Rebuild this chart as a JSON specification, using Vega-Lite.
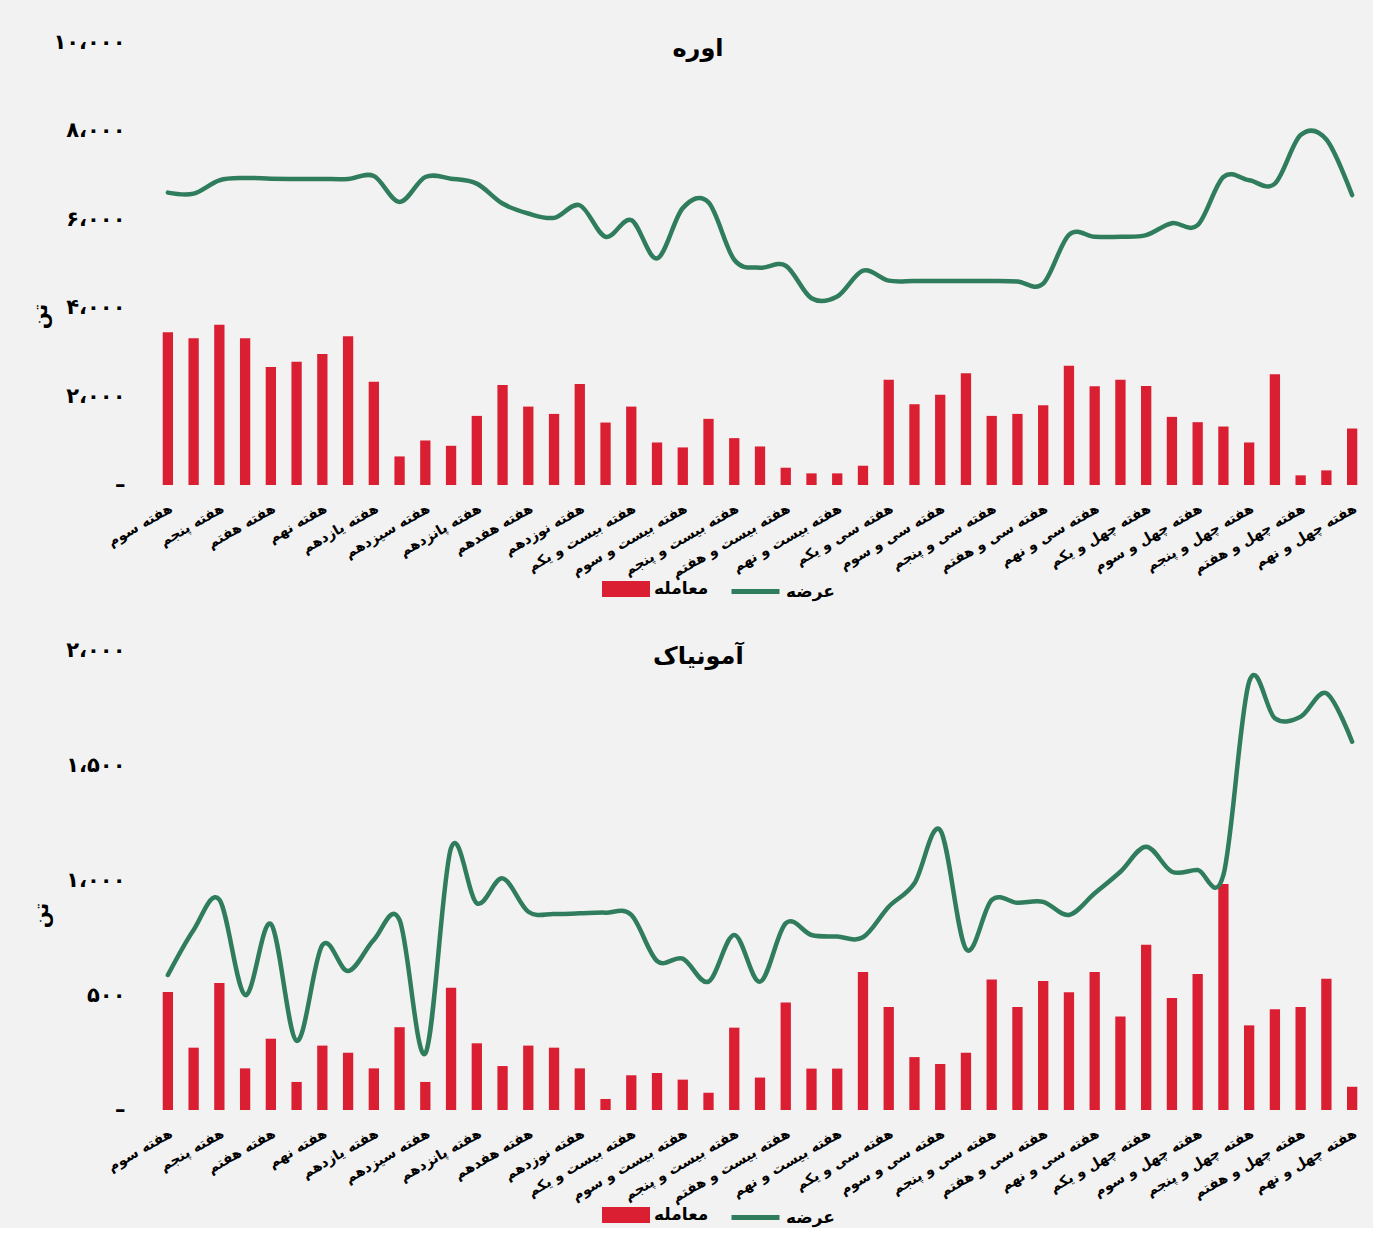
{
  "$schema": "https://vega.github.io/schema/vega-lite/v6.json",
  "background": "#f2f2f2",
  "padding": {"left": 30, "top": 31, "right": 8, "bottom": 0},
  "spacing": 37,
  "datasets": {
    "urea": [
      {"week": "هفته سوم", "trade": 3450, "supply": 6600},
      {"week": "هفته چهارم", "trade": 3315, "supply": 6578},
      {"week": "هفته پنجم", "trade": 3615, "supply": 6878},
      {"week": "هفته ششم", "trade": 3315, "supply": 6930},
      {"week": "هفته هفتم", "trade": 2663, "supply": 6915},
      {"week": "هفته هشتم", "trade": 2783, "supply": 6908},
      {"week": "هفته نهم", "trade": 2955, "supply": 6908},
      {"week": "هفته دهم", "trade": 3360, "supply": 6908},
      {"week": "هفته یازدهم", "trade": 2333, "supply": 6975},
      {"week": "هفته دوازدهم", "trade": 645, "supply": 6390},
      {"week": "هفته سیزدهم", "trade": 1005, "supply": 6953},
      {"week": "هفته چهاردهم", "trade": 885, "supply": 6915},
      {"week": "هفته پانزدهم", "trade": 1560, "supply": 6803},
      {"week": "هفته شانزدهم", "trade": 2258, "supply": 6353},
      {"week": "هفته هفدهم", "trade": 1770, "supply": 6128},
      {"week": "هفته هجدهم", "trade": 1605, "supply": 6030},
      {"week": "هفته نوزدهم", "trade": 2280, "supply": 6315},
      {"week": "هفته بیستم", "trade": 1410, "supply": 5603},
      {"week": "هفته بیست و یکم", "trade": 1770, "supply": 5978},
      {"week": "هفته بیست و دوم", "trade": 960, "supply": 5115},
      {"week": "هفته بیست و سوم", "trade": 848, "supply": 6250},
      {"week": "هفته بیست و چهارم", "trade": 1493, "supply": 6380},
      {"week": "هفته بیست و پنجم", "trade": 1058, "supply": 5085},
      {"week": "هفته بیست و ششم", "trade": 870, "supply": 4905},
      {"week": "هفته بیست و هفتم", "trade": 390, "supply": 4950},
      {"week": "هفته بیست و هشتم", "trade": 263, "supply": 4215},
      {"week": "هفته بیست و نهم", "trade": 263, "supply": 4253},
      {"week": "هفته سی‌ام", "trade": 435, "supply": 4838},
      {"week": "هفته سی و یکم", "trade": 2378, "supply": 4613},
      {"week": "هفته سی و دوم", "trade": 1823, "supply": 4605},
      {"week": "هفته سی و سوم", "trade": 2040, "supply": 4605},
      {"week": "هفته سی و چهارم", "trade": 2520, "supply": 4605},
      {"week": "هفته سی و پنجم", "trade": 1560, "supply": 4605},
      {"week": "هفته سی و ششم", "trade": 1605, "supply": 4595},
      {"week": "هفته سی و هفتم", "trade": 1800, "supply": 4545},
      {"week": "هفته سی و هشتم", "trade": 2693, "supply": 5648},
      {"week": "هفته سی و نهم", "trade": 2228, "supply": 5603},
      {"week": "هفته چهلم", "trade": 2378, "supply": 5603},
      {"week": "هفته چهل و یکم", "trade": 2235, "supply": 5640},
      {"week": "هفته چهل و دوم", "trade": 1538, "supply": 5910},
      {"week": "هفته چهل و سوم", "trade": 1418, "supply": 5865},
      {"week": "هفته چهل و چهارم", "trade": 1320, "supply": 6953},
      {"week": "هفته چهل و پنجم", "trade": 960, "supply": 6878},
      {"week": "هفته چهل و ششم", "trade": 2498, "supply": 6803},
      {"week": "هفته چهل و هفتم", "trade": 218, "supply": 7900},
      {"week": "هفته چهل و هشتم", "trade": 330, "supply": 7800},
      {"week": "هفته چهل و نهم", "trade": 1275, "supply": 6545}
    ],
    "ammonia": [
      {"week": "هفته سوم", "trade": 513, "supply": 587},
      {"week": "هفته چهارم", "trade": 271, "supply": 783},
      {"week": "هفته پنجم", "trade": 552, "supply": 915},
      {"week": "هفته ششم", "trade": 181, "supply": 500},
      {"week": "هفته هفتم", "trade": 310, "supply": 809},
      {"week": "هفته هشتم", "trade": 122, "supply": 301},
      {"week": "هفته نهم", "trade": 280, "supply": 717},
      {"week": "هفته دهم", "trade": 249, "supply": 604},
      {"week": "هفته یازدهم", "trade": 181, "supply": 740},
      {"week": "هفته دوازدهم", "trade": 360, "supply": 826},
      {"week": "هفته سیزدهم", "trade": 122, "supply": 246},
      {"week": "هفته چهاردهم", "trade": 532, "supply": 1139},
      {"week": "هفته پانزدهم", "trade": 290, "supply": 899},
      {"week": "هفته شانزدهم", "trade": 191, "supply": 1007},
      {"week": "هفته هفدهم", "trade": 280, "supply": 862},
      {"week": "هفته هجدهم", "trade": 271, "supply": 852},
      {"week": "هفته نوزدهم", "trade": 181, "supply": 855},
      {"week": "هفته بیستم", "trade": 48, "supply": 858},
      {"week": "هفته بیست و یکم", "trade": 151, "supply": 848},
      {"week": "هفته بیست و دوم", "trade": 161, "supply": 648},
      {"week": "هفته بیست و سوم", "trade": 132, "supply": 658},
      {"week": "هفته بیست و چهارم", "trade": 75, "supply": 558},
      {"week": "هفته بیست و پنجم", "trade": 358, "supply": 761},
      {"week": "هفته بیست و ششم", "trade": 141, "supply": 558},
      {"week": "هفته بیست و هفتم", "trade": 467, "supply": 812},
      {"week": "هفته بیست و هشتم", "trade": 180, "supply": 761},
      {"week": "هفته بیست و نهم", "trade": 180, "supply": 754},
      {"week": "هفته سی‌ام", "trade": 600, "supply": 751},
      {"week": "هفته سی و یکم", "trade": 448, "supply": 884},
      {"week": "هفته سی و دوم", "trade": 230, "supply": 986},
      {"week": "هفته سی و سوم", "trade": 200, "supply": 1217},
      {"week": "هفته سی و چهارم", "trade": 249, "supply": 700},
      {"week": "هفته سی و پنجم", "trade": 567, "supply": 913},
      {"week": "هفته سی و ششم", "trade": 448, "supply": 901},
      {"week": "هفته سی و هفتم", "trade": 561, "supply": 905},
      {"week": "هفته سی و هشتم", "trade": 512, "supply": 848},
      {"week": "هفته سی و نهم", "trade": 600, "supply": 942},
      {"week": "هفته چهلم", "trade": 407, "supply": 1036},
      {"week": "هفته چهل و یکم", "trade": 719, "supply": 1145},
      {"week": "هفته چهل و دوم", "trade": 487, "supply": 1036},
      {"week": "هفته چهل و سوم", "trade": 591, "supply": 1043},
      {"week": "هفته چهل و چهارم", "trade": 983, "supply": 1022},
      {"week": "هفته چهل و پنجم", "trade": 368, "supply": 1862},
      {"week": "هفته چهل و ششم", "trade": 438, "supply": 1703},
      {"week": "هفته چهل و هفتم", "trade": 448, "supply": 1710},
      {"week": "هفته چهل و هشتم", "trade": 571, "supply": 1812},
      {"week": "هفته چهل و نهم", "trade": 101, "supply": 1601}
    ]
  },
  "vconcat": [
    {
      "width": 1210,
      "height": 443,
      "title": {"text": "اوره", "frame": "bounds", "offset": -30, "fontSize": 24, "fontWeight": "bold", "color": "#000000", "anchor": "middle"},
      "data": {"name": "urea"},
      "encoding": {
        "x": {
          "field": "week", "type": "nominal", "sort": null, "title": null,
          "scale": {"paddingInner": 0.6, "paddingOuter": 0.3},
          "axis": {
            "values": ["هفته سوم", "هفته پنجم", "هفته هفتم", "هفته نهم", "هفته یازدهم", "هفته سیزدهم", "هفته پانزدهم", "هفته هفدهم", "هفته نوزدهم", "هفته بیست و یکم", "هفته بیست و سوم", "هفته بیست و پنجم", "هفته بیست و هفتم", "هفته بیست و نهم", "هفته سی و یکم", "هفته سی و سوم", "هفته سی و پنجم", "هفته سی و هفتم", "هفته سی و نهم", "هفته چهل و یکم", "هفته چهل و سوم", "هفته چهل و پنجم", "هفته چهل و هفتم", "هفته چهل و نهم"],
            "labelAngle": -30, "labelAlign": "right", "labelBaseline": "top", "labelPadding": 16, "labelFontSize": 14
          }
        }
      },
      "layer": [
        {
          "mark": {"type": "bar"},
          "encoding": {
            "y": {
              "field": "trade", "type": "quantitative",
              "scale": {"domain": [0, 10000]},
              "axis": {
                "values": [0, 2000, 4000, 6000, 8000, 10000],
                "labelExpr": "datum.value == 0 ? '–' : datum.value == 2000 ? '۲،۰۰۰' : datum.value == 4000 ? '۴،۰۰۰' : datum.value == 6000 ? '۶،۰۰۰' : datum.value == 8000 ? '۸،۰۰۰' : '۱۰،۰۰۰'",
                "title": "تن", "titleY": 274, "titlePadding": 2
              }
            },
            "fill": {"datum": "معامله", "type": "nominal", "scale": {"domain": ["معامله"], "range": ["#DB1F33"]}, "legend": {"symbolType": "M-1,-0.33H1V0.33H-1Z", "symbolSize": 2304, "symbolStrokeWidth": 0, "title": null, "orient": "none", "legendX": 447, "legendY": 523}}
          }
        },
        {
          "mark": {"type": "line", "interpolate": "cardinal", "strokeWidth": 4.5, "strokeCap": "round"},
          "encoding": {
            "y": {"field": "supply", "type": "quantitative"},
            "stroke": {"datum": "عرضه", "type": "nominal", "scale": {"domain": ["عرضه"], "range": ["#2F7D5C"]}, "legend": {"symbolType": "stroke", "symbolSize": 2304, "symbolStrokeWidth": 5, "title": null, "orient": "none", "legendX": 574, "legendY": 523}}
          }
        }
      ]
    },
    {
      "width": 1210,
      "height": 460,
      "title": {"text": "آمونیاک", "frame": "bounds", "offset": -30, "fontSize": 24, "fontWeight": "bold", "color": "#000000", "anchor": "middle"},
      "data": {"name": "ammonia"},
      "encoding": {
        "x": {
          "field": "week", "type": "nominal", "sort": null, "title": null,
          "scale": {"paddingInner": 0.6, "paddingOuter": 0.3},
          "axis": {
            "values": ["هفته سوم", "هفته پنجم", "هفته هفتم", "هفته نهم", "هفته یازدهم", "هفته سیزدهم", "هفته پانزدهم", "هفته هفدهم", "هفته نوزدهم", "هفته بیست و یکم", "هفته بیست و سوم", "هفته بیست و پنجم", "هفته بیست و هفتم", "هفته بیست و نهم", "هفته سی و یکم", "هفته سی و سوم", "هفته سی و پنجم", "هفته سی و هفتم", "هفته سی و نهم", "هفته چهل و یکم", "هفته چهل و سوم", "هفته چهل و پنجم", "هفته چهل و هفتم", "هفته چهل و نهم"],
            "labelAngle": -30, "labelAlign": "right", "labelBaseline": "top", "labelPadding": 16, "labelFontSize": 14
          }
        }
      },
      "layer": [
        {
          "mark": {"type": "bar"},
          "encoding": {
            "y": {
              "field": "trade", "type": "quantitative",
              "scale": {"domain": [0, 2000]},
              "axis": {
                "values": [0, 500, 1000, 1500, 2000],
                "labelExpr": "datum.value == 0 ? '–' : datum.value == 500 ? '۵۰۰' : datum.value == 1000 ? '۱،۰۰۰' : datum.value == 1500 ? '۱،۵۰۰' : '۲،۰۰۰'",
                "title": "تن", "titleY": 265, "titlePadding": 14
              }
            },
            "fill": {"datum": "معامله", "type": "nominal", "scale": {"domain": ["معامله"], "range": ["#DB1F33"]}, "legend": {"symbolType": "M-1,-0.33H1V0.33H-1Z", "symbolSize": 2304, "symbolStrokeWidth": 0, "title": null, "orient": "none", "legendX": 447, "legendY": 541}}
          }
        },
        {
          "mark": {"type": "line", "interpolate": "cardinal", "strokeWidth": 4.5, "strokeCap": "round"},
          "encoding": {
            "y": {"field": "supply", "type": "quantitative"},
            "stroke": {"datum": "عرضه", "type": "nominal", "scale": {"domain": ["عرضه"], "range": ["#2F7D5C"]}, "legend": {"symbolType": "stroke", "symbolSize": 2304, "symbolStrokeWidth": 5, "title": null, "orient": "none", "legendX": 574, "legendY": 541}}
          }
        }
      ]
    }
  ],
  "resolve": {
    "scale": {"fill": "independent", "stroke": "independent"},
    "legend": {"fill": "independent", "stroke": "independent"}
  },
  "config": {
    "font": "DejaVu Sans",
    "view": {"stroke": null},
    "axis": {"grid": false, "domain": false, "ticks": false, "labelColor": "#000000", "labelFontWeight": "bold", "titleColor": "#000000", "titleFontWeight": "bold", "titleFontSize": 20},
    "axisY": {"labelFontSize": 21, "labelPadding": 30},
    "legend": {"labelFontSize": 17, "labelFontWeight": "bold", "labelColor": "#000000"}
  }
}
